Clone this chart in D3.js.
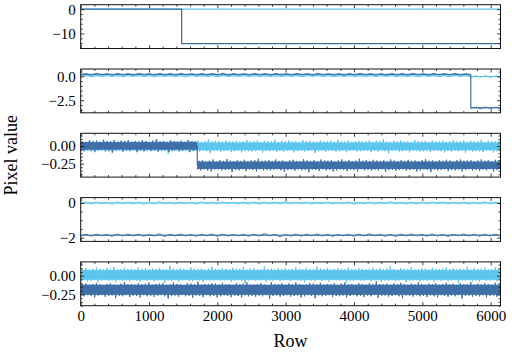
<!DOCTYPE html>
<html><head><meta charset="utf-8">
<script src="https://cdn.jsdelivr.net/npm/d3@7"></script>
<style>body{margin:0;background:#fff}svg{display:block}text{font-family:"Liberation Serif","Times New Roman",serif;fill:#000}</style>
</head><body>
<script>
// ---------------- DATA ----------------
const nRows = 6144;
const xMajorTicks = [0,1000,2000,3000,4000,5000,6000];
const xTickLabels = ["0","1000","2000","3000","4000","5000","6000"];
const xMinorStep = 200;

// panel 1 (step series, row -> value)
const p1Rows  = [0, 1477, 1477, 6144];
const p1Light = [0.0, 0.0, 0.0, 0.0];
const p1Dark  = [0.02, 0.02, -14.2, -14.2];

// noisy series: per-bin upper / lower extremes, plus the dense core [low, high] of each segment
const p2Step = 5709;
const p2DarkHiA = [0.30,0.32,0.29,0.31,0.30,0.33,0.29,0.31,0.30,0.32,0.29,0.30,0.31,0.34,0.30,0.29,0.31,0.30,0.32,0.29,0.31,0.30,0.33,0.29,0.30,0.31,0.32,0.30,0.29,0.31,0.30,0.32,0.29,0.31,0.30,0.33,0.30];
const p2DarkLoA = [0.14,0.12,0.15,0.13,0.14,0.11,0.15,0.13,0.14,0.12,0.15,0.13,0.14,0.12,0.10,0.14,0.13,0.15,0.12,0.14,0.13,0.15,0.12,0.14,0.13,0.11,0.14,0.15,0.13,0.12,0.14,0.13,0.15,0.12,0.14,0.13,0.12];
const p2DarkCoreA = [0.16, 0.27];
const p2DarkHiB = [-3.22,-3.21,-3.23];
const p2DarkLoB = [-3.38,-3.39,-3.37];
const p2DarkCoreB = [-3.36, -3.24];
const p2LightHiA = [0.13,0.12,0.14,0.13,0.11,0.14,0.12,0.13,0.15,0.12,0.13,0.14,0.12,0.13,0.11,0.14,0.13,0.12,0.15,0.13,0.12,0.14,0.13,0.11,0.13,0.14,0.12,0.13,0.15,0.12,0.13,0.14,0.12,0.13,0.11,0.14,0.13];
const p2LightLoA = [-0.03,-0.04,-0.02,-0.03,-0.05,-0.02,-0.03,-0.04,-0.02,-0.03,-0.06,-0.03,-0.02,-0.04,-0.03,-0.02,-0.05,-0.03,-0.04,-0.02,-0.03,-0.04,-0.02,-0.03,-0.05,-0.03,-0.02,-0.04,-0.03,-0.02,-0.04,-0.03,-0.05,-0.02,-0.03,-0.04,-0.03];
const p2LightCoreA = [0.0, 0.10];
const p2LightHiB = [0.06,0.07,0.05];
const p2LightLoB = [-0.10,-0.09,-0.11];
const p2LightCoreB = [-0.08, 0.04];

const p3Step = 1706;
const p3DarkHiA = [0.07,0.06,0.085,0.065,0.075,0.06,0.09,0.07,0.065,0.08,0.06,0.075,0.07,0.085,0.06,0.07,0.065,0.08,0.07,0.06,0.075,0.095,0.065,0.07,0.06,0.08,0.07,0.065,0.075,0.06,0.085,0.07,0.065];
const p3DarkLoA = [-0.06,-0.07,-0.055,-0.065,-0.08,-0.06,-0.055,-0.07,-0.065,-0.09,-0.06,-0.055,-0.075,-0.06,-0.065,-0.055,-0.08,-0.06,-0.07,-0.055,-0.065,-0.06,-0.075,-0.055,-0.06,-0.085,-0.065,-0.055,-0.07,-0.06,-0.055,-0.08,-0.065];
const p3DarkCoreA = [-0.05, 0.055];
const p3DarkHiB = [-0.21,-0.2,-0.22,-0.205,-0.19,-0.215,-0.2,-0.21,-0.185,-0.205,-0.215,-0.2,-0.21,-0.195,-0.22,-0.205,-0.2,-0.18,-0.21,-0.205,
-0.2,-0.215,-0.19,-0.21,-0.205,-0.22,-0.2,-0.195,-0.21,-0.215,-0.185,-0.205,-0.21,-0.2,-0.215,-0.19,-0.205,-0.21,-0.2,-0.22,
-0.205,-0.19,-0.21,-0.2,-0.215,-0.205,-0.18,-0.21,-0.2,-0.215,-0.195,-0.205,-0.21,-0.2,-0.22,-0.19,-0.205,-0.215,-0.2,-0.21,
-0.195,-0.21,-0.205,-0.215,-0.2,-0.185,-0.21,-0.205,-0.22,-0.2,-0.21,-0.195,-0.205,-0.215,-0.2,-0.19,-0.21,-0.205,-0.2,-0.215,
-0.205,-0.19,-0.21,-0.2,-0.215,-0.195,-0.205];
const p3DarkLoB = [-0.335,-0.345,-0.33,-0.35,-0.36,-0.335,-0.33,-0.345,-0.34,-0.335,-0.37,-0.34,-0.345,-0.33,-0.355,-0.335,-0.34,-0.36,-0.33,-0.345,
-0.34,-0.35,-0.335,-0.33,-0.345,-0.365,-0.34,-0.335,-0.35,-0.33,-0.345,-0.34,-0.37,-0.335,-0.34,-0.355,-0.33,-0.345,-0.34,-0.36,
-0.345,-0.33,-0.34,-0.355,-0.335,-0.34,-0.36,-0.33,-0.345,-0.34,-0.35,-0.335,-0.345,-0.33,-0.365,-0.34,-0.335,-0.35,-0.34,-0.33,
-0.35,-0.34,-0.335,-0.36,-0.345,-0.33,-0.34,-0.37,-0.335,-0.345,-0.34,-0.33,-0.355,-0.34,-0.345,-0.335,-0.36,-0.34,-0.33,-0.345,
-0.34,-0.355,-0.335,-0.345,-0.33,-0.36,-0.34];
const p3DarkCoreB = [-0.325, -0.22];
const p3LightHi = [0.07,0.06,0.08,0.065,0.075,0.06,0.09,0.07,0.065,0.08,0.06,0.075,0.07,0.085,0.06,0.07,0.065,0.08,0.07,0.06,
0.075,0.09,0.065,0.07,0.06,0.08,0.07,0.065,0.075,0.06,0.085,0.07,0.065,0.08,0.06,0.07,0.095,0.065,0.075,0.07,
0.06,0.08,0.07,0.065,0.075,0.06,0.07,0.085,0.065,0.07,0.08,0.06,0.075,0.07,0.065,0.09,0.06,0.075,0.07,0.08,
0.065,0.07,0.06,0.085,0.07,0.075,0.065,0.06,0.08,0.07,0.065,0.075,0.06,0.09,0.07,0.065,0.08,0.06,0.07,0.075,
0.07,0.065,0.08,0.06,0.075,0.07,0.095,0.065,0.06,0.075,0.07,0.08,0.065,0.07,0.06,0.085,0.07,0.065,0.075,0.06,
0.08,0.07,0.065,0.075,0.06,0.07,0.085,0.065,0.07,0.08,0.06,0.075,0.07,0.065,0.09,0.06,0.075,0.07,0.065,0.08];
const p3LightLo = [-0.07,-0.08,-0.065,-0.075,-0.09,-0.07,-0.065,-0.08,-0.075,-0.1,-0.07,-0.065,-0.085,-0.07,-0.075,-0.065,-0.09,-0.07,-0.08,-0.065,
-0.075,-0.07,-0.085,-0.065,-0.07,-0.11,-0.075,-0.065,-0.08,-0.07,-0.065,-0.09,-0.075,-0.07,-0.08,-0.065,-0.075,-0.1,-0.07,-0.065,
-0.08,-0.07,-0.065,-0.085,-0.075,-0.07,-0.09,-0.065,-0.075,-0.08,-0.07,-0.065,-0.095,-0.07,-0.075,-0.065,-0.08,-0.07,-0.085,-0.065,
-0.07,-0.09,-0.075,-0.065,-0.08,-0.07,-0.065,-0.1,-0.075,-0.07,-0.085,-0.065,-0.07,-0.08,-0.075,-0.065,-0.09,-0.07,-0.065,-0.08,
-0.075,-0.065,-0.07,-0.085,-0.07,-0.08,-0.065,-0.075,-0.105,-0.07,-0.065,-0.08,-0.075,-0.07,-0.09,-0.065,-0.07,-0.08,-0.075,-0.065,
-0.085,-0.07,-0.065,-0.075,-0.09,-0.07,-0.08,-0.065,-0.075,-0.07,-0.1,-0.065,-0.08,-0.07,-0.075,-0.085,-0.065,-0.07,-0.09,-0.075];
const p3LightCore = [-0.06, 0.05];

const p4LightHi = [0.05,0.06,0.04,0.07,0.05,0.06,0.05,0.08,0.04,0.06,0.05,0.07,0.05,0.06,0.04,0.05,0.07,0.06,0.05,0.09,0.05,0.06,0.04,0.06,0.05,0.07,0.05,0.06,0.05,0.08,0.04,0.06,0.05,0.07,0.06,0.05,0.06,0.04,0.07,0.05];
const p4LightLo = [-0.05,-0.06,-0.04,-0.07,-0.05,-0.06,-0.08,-0.05,-0.04,-0.06,-0.05,-0.07,-0.05,-0.06,-0.04,-0.05,-0.06,-0.08,-0.05,-0.06,-0.05,-0.04,-0.07,-0.05,-0.06,-0.05,-0.09,-0.05,-0.06,-0.04,-0.05,-0.07,-0.06,-0.05,-0.04,-0.06,-0.05,-0.07,-0.05,-0.06];
const p4LightCore = [-0.035, 0.035];
const p4DarkHi = [-1.81,-1.80,-1.82,-1.79,-1.81,-1.80,-1.82,-1.78,-1.81,-1.80,-1.82,-1.81,-1.79,-1.80,-1.82,-1.81,-1.80,-1.77,-1.81,-1.82,-1.80,-1.81,-1.79,-1.80,-1.82,-1.81,-1.80,-1.78,-1.81,-1.82,-1.80,-1.79,-1.81,-1.80,-1.82,-1.81,-1.79,-1.80,-1.81,-1.80];
const p4DarkLo = [-1.91,-1.92,-1.90,-1.93,-1.91,-1.90,-1.92,-1.91,-1.94,-1.90,-1.91,-1.92,-1.90,-1.93,-1.91,-1.90,-1.92,-1.91,-1.90,-1.95,-1.91,-1.92,-1.90,-1.91,-1.93,-1.90,-1.92,-1.91,-1.90,-1.92,-1.94,-1.91,-1.90,-1.92,-1.91,-1.93,-1.90,-1.91,-1.92,-1.91];
const p4DarkCore = [-1.895, -1.825];

const p5LightHi = [0.09,0.1,0.085,0.095,0.11,0.09,0.085,0.1,0.095,0.12,0.09,0.085,0.105,0.09,0.095,0.085,0.11,0.09,0.1,0.085,
0.095,0.09,0.105,0.085,0.09,0.13,0.095,0.085,0.1,0.09,0.085,0.11,0.095,0.09,0.1,0.085,0.095,0.12,0.09,0.085,
0.1,0.09,0.085,0.105,0.095,0.09,0.115,0.085,0.095,0.1,0.09,0.085,0.125,0.09,0.095,0.085,0.1,0.09,0.105,0.085,
0.09,0.11,0.095,0.085,0.1,0.09,0.085,0.12,0.095,0.09,0.105,0.085,0.09,0.1,0.095,0.085,0.11,0.09,0.085,0.1,
0.095,0.085,0.09,0.105,0.09,0.1,0.085,0.095,0.13,0.09,0.085,0.1,0.095,0.09,0.11,0.085,0.09,0.1,0.095,0.085,
0.105,0.09,0.085,0.095,0.11,0.09,0.1,0.085,0.095,0.09,0.12,0.085,0.1,0.09,0.095,0.105,0.085,0.09,0.11,0.095];
const p5LightLo = [-0.065,-0.06,-0.075,-0.07,-0.06,-0.085,-0.065,-0.06,-0.07,-0.065,-0.09,-0.06,-0.07,-0.065,-0.075,-0.06,-0.065,-0.08,-0.06,-0.07,
-0.06,-0.075,-0.065,-0.06,-0.095,-0.065,-0.07,-0.06,-0.08,-0.065,-0.06,-0.07,-0.075,-0.06,-0.065,-0.085,-0.06,-0.07,-0.065,-0.06,
-0.07,-0.065,-0.06,-0.08,-0.065,-0.06,-0.075,-0.1,-0.065,-0.06,-0.07,-0.065,-0.06,-0.085,-0.065,-0.07,-0.06,-0.075,-0.065,-0.06,
-0.075,-0.06,-0.065,-0.07,-0.09,-0.06,-0.065,-0.075,-0.06,-0.07,-0.065,-0.08,-0.06,-0.065,-0.07,-0.06,-0.095,-0.065,-0.07,-0.06,
-0.065,-0.07,-0.06,-0.075,-0.065,-0.06,-0.085,-0.065,-0.07,-0.06,-0.075,-0.065,-0.06,-0.09,-0.07,-0.065,-0.06,-0.08,-0.065,-0.07,
-0.06,-0.08,-0.065,-0.07,-0.06,-0.075,-0.065,-0.06,-0.1,-0.065,-0.07,-0.06,-0.075,-0.065,-0.085,-0.06,-0.07,-0.065,-0.06,-0.075];
const p5LightCore = [-0.055, 0.075];
const p5DarkHi = [-0.115,-0.105,-0.12,-0.11,-0.095,-0.115,-0.125,-0.11,-0.1,-0.115,-0.12,-0.105,-0.085,-0.115,-0.11,-0.12,-0.1,-0.115,-0.105,-0.09,
-0.12,-0.11,-0.105,-0.1,-0.12,-0.115,-0.09,-0.11,-0.115,-0.125,-0.1,-0.105,-0.115,-0.08,-0.12,-0.11,-0.115,-0.1,-0.105,-0.12,
-0.095,-0.115,-0.11,-0.12,-0.1,-0.115,-0.105,-0.09,-0.12,-0.115,-0.11,-0.1,-0.115,-0.125,-0.085,-0.11,-0.115,-0.1,-0.12,-0.105,
-0.115,-0.09,-0.11,-0.12,-0.115,-0.1,-0.105,-0.115,-0.095,-0.12,-0.11,-0.115,-0.1,-0.125,-0.105,-0.09,-0.115,-0.11,-0.12,-0.1,
-0.11,-0.12,-0.1,-0.115,-0.075,-0.11,-0.115,-0.105,-0.12,-0.1,-0.115,-0.095,-0.11,-0.12,-0.105,-0.115,-0.09,-0.11,-0.12,-0.105,
-0.115,-0.1,-0.12,-0.11,-0.095,-0.115,-0.105,-0.12,-0.1,-0.115,-0.11,-0.085,-0.12,-0.105,-0.115,-0.1,-0.11,-0.12,-0.095,-0.115];
const p5DarkLo = [-0.265,-0.275,-0.26,-0.27,-0.29,-0.265,-0.26,-0.28,-0.27,-0.265,-0.3,-0.27,-0.275,-0.26,-0.285,-0.265,-0.27,-0.29,-0.26,-0.275,
-0.27,-0.28,-0.265,-0.26,-0.275,-0.305,-0.27,-0.265,-0.28,-0.26,-0.275,-0.27,-0.295,-0.265,-0.27,-0.285,-0.26,-0.275,-0.27,-0.29,
-0.275,-0.26,-0.27,-0.285,-0.265,-0.27,-0.29,-0.26,-0.275,-0.27,-0.28,-0.265,-0.275,-0.26,-0.31,-0.27,-0.265,-0.28,-0.27,-0.26,
-0.28,-0.27,-0.265,-0.29,-0.275,-0.26,-0.27,-0.3,-0.265,-0.275,-0.27,-0.26,-0.285,-0.27,-0.275,-0.265,-0.29,-0.27,-0.26,-0.275,
-0.27,-0.285,-0.265,-0.275,-0.26,-0.295,-0.27,-0.265,-0.28,-0.27,-0.26,-0.275,-0.3,-0.265,-0.27,-0.28,-0.26,-0.275,-0.27,-0.285,
-0.265,-0.275,-0.29,-0.26,-0.27,-0.28,-0.265,-0.275,-0.26,-0.305,-0.27,-0.265,-0.28,-0.27,-0.275,-0.26,-0.29,-0.27,-0.265,-0.28];
const p5DarkCore = [-0.255, -0.12];

// y ticks per panel
const yMajorTicks = [[0,-10],[0,-2.5],[0,-0.25],[0,-2],[0,-0.25]];
const yTickLabels = [["0","\u221210"],["0.0","\u22122.5"],["0.00","\u22120.25"],["0","\u22122"],["0.00","\u22120.25"]];
const yMinorSteps = [2,0.5,0.05,0.5,0.05];
const yLimits = [[-16.2,1.85],[-3.82,0.77],[-0.44,0.18],[-2.22,0.31],[-0.40,0.184]];

const xLabel = "Row", yLabel = "Pixel value";

// ---------------- LAYOUT / STYLE ----------------
const W = 512, H = 356;
const plotLeft = 80.7, plotRight = 500.5;
const panelTops = [4.7, 69, 133.3, 197.6, 261.9];
const panelH = 43.8;
const darkColor = "#3f70a8", lightColor = "#5cc6ee";

const svg = d3.select("body").append("svg").attr("width", W).attr("height", H);
const x = d3.scaleLinear().domain([0, nRows]).range([plotLeft, plotRight]);

function stepTicks(lo, hi, step){
  const out=[]; const s=Math.ceil(lo/step-1e-9); const e=Math.floor(hi/step+1e-9);
  for(let k=s;k<=e;k++) out.push(+(k*step).toFixed(6));
  return out;
}
// a segment of a noisy series: zig-zag through the per-bin extremes + dense core
function seg(hi, lo, core, r0, r1){
  const n = hi.length, w = (r1 - r0) / n, zig = [];
  for(let i=0;i<n;i++){ zig.push([r0 + i*w, lo[i]]); zig.push([r0 + (i+0.5)*w, hi[i]]); }
  zig.push([r1, lo[n-1]]);
  return {zig, core, r0, r1};
}

const panels = [
  {lines:[{pts:p1Rows.map((r,i)=>[r,p1Light[i]]), c:lightColor},
          {pts:p1Rows.map((r,i)=>[r,p1Dark[i]]), c:darkColor}], bands:[]},
  {bands:[{segs:[seg(p2LightHiA,p2LightLoA,p2LightCoreA,0,p2Step), seg(p2LightHiB,p2LightLoB,p2LightCoreB,p2Step,nRows)], c:lightColor},
          {segs:[seg(p2DarkHiA,p2DarkLoA,p2DarkCoreA,0,p2Step), seg(p2DarkHiB,p2DarkLoB,p2DarkCoreB,p2Step,nRows)], c:darkColor}]},
  {bands:[{segs:[seg(p3LightHi,p3LightLo,p3LightCore,0,nRows)], c:lightColor},
          {segs:[seg(p3DarkHiA,p3DarkLoA,p3DarkCoreA,0,p3Step), seg(p3DarkHiB,p3DarkLoB,p3DarkCoreB,p3Step,nRows)], c:darkColor}]},
  {bands:[{segs:[seg(p4LightHi,p4LightLo,p4LightCore,0,nRows)], c:lightColor},
          {segs:[seg(p4DarkHi,p4DarkLo,p4DarkCore,0,nRows)], c:darkColor}]},
  {bands:[{segs:[seg(p5LightHi,p5LightLo,p5LightCore,0,nRows)], c:lightColor},
          {segs:[seg(p5DarkHi,p5DarkLo,p5DarkCore,0,nRows)], c:darkColor}]}
];

const xMinor = stepTicks(0, nRows, xMinorStep).filter(v=>!xMajorTicks.includes(v));
const majLen = 3.5, minLen = 2;

panels.forEach((p, pi) => {
  const top = panelTops[pi], bot = top + panelH;
  const y = d3.scaleLinear().domain(yLimits[pi]).range([bot, top]);
  const g = svg.append("g");
  const clipId = "clip" + pi;
  svg.append("clipPath").attr("id", clipId).append("rect")
    .attr("x", plotLeft).attr("y", top).attr("width", plotRight-plotLeft).attr("height", panelH);
  const dg = g.append("g").attr("clip-path", `url(#${clipId})`);
  const line = d3.line().x(d=>x(d[0])).y(d=>y(d[1]));
  (p.lines||[]).forEach(s => {
    dg.append("path").attr("d", line(s.pts)).attr("fill","none")
      .attr("stroke", s.c).attr("stroke-width", 1.3);
  });
  p.bands.forEach(b => {
    b.segs.forEach(sg => {
      dg.append("rect").attr("x", x(sg.r0)).attr("width", x(sg.r1) - x(sg.r0))
        .attr("y", y(sg.core[1])).attr("height", y(sg.core[0]) - y(sg.core[1])).attr("fill", b.c);
      dg.append("path").attr("d", line(sg.zig)).attr("fill","none")
        .attr("stroke", b.c).attr("stroke-width", 1).attr("stroke-linejoin","miter");
    });
    for(let k=1;k<b.segs.length;k++){
      const a = b.segs[k-1], c = b.segs[k];
      dg.append("line").attr("x1", x(c.r0)).attr("x2", x(c.r0))
        .attr("y1", y((a.core[0]+a.core[1])/2)).attr("y2", y((c.core[0]+c.core[1])/2))
        .attr("stroke", b.c).attr("stroke-width", 1.2);
    }
  });
  const yMinor = stepTicks(yLimits[pi][0], yLimits[pi][1], yMinorSteps[pi]).filter(v=>!yMajorTicks[pi].includes(v));
  const strip = a => a.call(s=>s.select(".domain").remove()).call(s=>s.selectAll("line").attr("stroke","#111").attr("stroke-width",0.8));
  const showX = pi === panels.length-1;
  const xb = d3.axisBottom(x).tickValues(xMajorTicks).tickSize(-majLen).tickPadding(5)
    .tickFormat((d,i)=> showX ? xTickLabels[i] : "");
  g.append("g").attr("transform",`translate(0,${bot})`).call(xb).call(strip)
    .call(s=>s.selectAll("text").attr("font-size",15).attr("font-family","Liberation Serif").attr("fill","#000"));
  g.append("g").attr("transform",`translate(0,${bot})`).call(d3.axisBottom(x).tickValues(xMinor).tickSize(-minLen).tickFormat("")).call(strip);
  g.append("g").attr("transform",`translate(0,${top})`).call(d3.axisTop(x).tickValues(xMajorTicks).tickSize(-majLen).tickFormat("")).call(strip);
  g.append("g").attr("transform",`translate(0,${top})`).call(d3.axisTop(x).tickValues(xMinor).tickSize(-minLen).tickFormat("")).call(strip);
  g.append("g").attr("transform",`translate(${plotLeft},0)`)
    .call(d3.axisLeft(y).tickValues(yMajorTicks[pi]).tickSize(-majLen).tickPadding(5).tickFormat((d,i)=>yTickLabels[pi][i]))
    .call(strip).call(s=>s.selectAll("text").attr("font-size",15).attr("font-family","Liberation Serif").attr("fill","#000"));
  g.append("g").attr("transform",`translate(${plotLeft},0)`).call(d3.axisLeft(y).tickValues(yMinor).tickSize(-minLen).tickFormat("")).call(strip);
  g.append("g").attr("transform",`translate(${plotRight},0)`).call(d3.axisRight(y).tickValues(yMajorTicks[pi]).tickSize(-majLen).tickFormat("")).call(strip);
  g.append("g").attr("transform",`translate(${plotRight},0)`).call(d3.axisRight(y).tickValues(yMinor).tickSize(-minLen).tickFormat("")).call(strip);
  g.append("rect").attr("x",plotLeft).attr("y",top).attr("width",plotRight-plotLeft).attr("height",panelH)
    .attr("fill","none").attr("stroke","#111").attr("stroke-width",1);
});

svg.append("text").attr("x",(plotLeft+plotRight)/2).attr("y",346.5).attr("text-anchor","middle")
  .attr("font-size",18).text(xLabel);
svg.append("text").attr("transform",`translate(16.5,${(panelTops[0]+panelTops[4]+panelH)/2}) rotate(-90)`)
  .attr("text-anchor","middle").attr("font-size",18).text(yLabel);
</script>
</body></html>
